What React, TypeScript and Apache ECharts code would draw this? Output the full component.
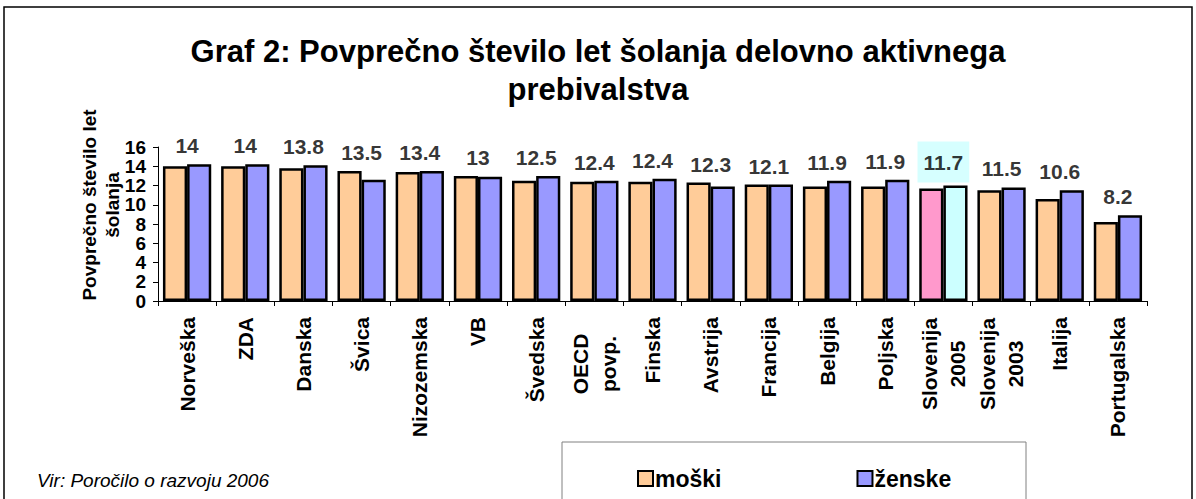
import React, { useEffect, useRef } from "react";
import * as echarts from "echarts";

const categories = [
  "Norveška", "ZDA", "Danska", "Švica", "Nizozemska", "VB", "Švedska", "OECD\npovp.",
  "Finska", "Avstrija", "Francija", "Belgija", "Poljska", "Slovenija\n2005", "Slovenija\n2003",
  "Italija", "Portugalska",
];
const moski = [14, 14, 13.8, 13.5, 13.4, 13, 12.5, 12.4, 12.4, 12.3, 12.1, 11.9, 11.9, 11.7, 11.5, 10.6, 8.2];
const zenske = [14.2, 14.2, 14.1, 12.6, 13.5, 12.9, 13.0, 12.5, 12.7, 11.9, 12.1, 12.5, 12.6, 12.0, 11.8, 11.5, 8.9];
const yTicks = { min: 0, max: 16, interval: 2 };
const highlightCategory = "Slovenija\n2005";

const FONT = "Liberation Sans, Arial, sans-serif";

export default function App() {
  const ref = useRef<HTMLDivElement>(null);
  useEffect(() => {
    document.body.style.margin = "0";
    const chart = echarts.init(ref.current!, null, { renderer: "svg" });
    const hi = categories.indexOf(highlightCategory);
    const moskiData = moski.map((v, i) =>
      i === hi ? { value: v, itemStyle: { color: "#FF99CC" } } : v
    );
    const zenskeData = zenske.map((v, i) =>
      i === hi ? { value: v, itemStyle: { color: "#CCFFFF" } } : v
    );
    const labelData = moski.map((v, i) => {
      const top = Math.max(v, zenske[i]);
      if (i === hi) {
        return {
          value: top,
          shown: v,
          label: { backgroundColor: "#CCFFFF", padding: [10, 6], distance: 3 },
        };
      }
      return { value: top, shown: v };
    });
    chart.setOption({
      animation: false,
      backgroundColor: "#ffffff",
      textStyle: { fontFamily: FONT },
      title: {
        text: "Graf 2: Povprečno število let šolanja delovno aktivnega\nprebivalstva",
        left: "center",
        top: 27,
        textStyle: { fontSize: 31, fontWeight: "bold", color: "#000", lineHeight: 38, fontFamily: FONT },
      },
      grid: { left: 158, right: 49, top: 147, bottom: 198, containLabel: false },
      legend: {
        data: ["moški", "ženske"],
        left: 632,
        top: 462,
        icon: "rect",
        itemWidth: 15,
        itemHeight: 15,
        itemGap: 135,
        textStyle: { fontSize: 23, fontWeight: "bold", color: "#000", fontFamily: FONT, padding: [0, 0, 0, -3] },
      },
      xAxis: {
        type: "category",
        data: categories,
        axisLine: { lineStyle: { color: "#000", width: 1 } },
        axisTick: { show: true, length: 5, lineStyle: { color: "#000" } },
        axisLabel: {
          interval: 0,
          rotate: 90,
          margin: 16,
          fontSize: 21,
          fontWeight: "bold",
          color: "#000",
          fontFamily: FONT,
          lineHeight: 28,
          align: "right",
          formatter: (v: string) => {
            if (v.indexOf("\n") >= 0) {
              const parts = v.split("\n");
              return parts.map((p) => "{c|" + p + "}").join("\n");
            }
            return v;
          },
          rich: {
            c: { width: 94, align: "center", fontSize: 21, fontWeight: "bold", color: "#000", fontFamily: FONT, lineHeight: 28 },
          },
        },
      },
      yAxis: {
        type: "value",
        min: yTicks.min,
        max: yTicks.max,
        interval: yTicks.interval,
        axisLine: { show: true, lineStyle: { color: "#000", width: 1 } },
        axisTick: { show: true, length: 5, lineStyle: { color: "#000" } },
        splitLine: { show: false },
        axisLabel: {
          fontSize: 19,
          fontWeight: "bold",
          color: "#000",
          fontFamily: FONT,
          margin: 12,
          lineHeight: 16,
          showMinLabel: true,
          showMaxLabel: true,
          hideOverlap: false,
        },
      },
      series: [
        {
          name: "moški",
          type: "bar",
          data: moskiData,
          barGap: "0%",
          barCategoryGap: "17%",
          itemStyle: { color: "#FFCC99", borderColor: "#000", borderWidth: 2.5 },
        },
        {
          name: "ženske",
          type: "bar",
          data: zenskeData,
          barGap: "0%",
          barCategoryGap: "17%",
          itemStyle: { color: "#9999FF", borderColor: "#000", borderWidth: 2.5 },
        },
        {
          name: "labels",
          type: "scatter",
          data: labelData,
          symbolSize: 0,
          silent: true,
          z: 5,
          label: {
            show: true,
            position: "top",
            distance: 8,
            fontSize: 21,
            fontWeight: "bold",
            color: "#000",
            fontFamily: FONT,
            formatter: (p: any) => String(p.data.shown),
          },
        },
      ],
      graphic: [
        {
          type: "rect",
          shape: { x: 4, y: 7, width: 1188, height: 520 },
          style: { fill: "none", stroke: "#000", lineWidth: 1.5 },
          silent: true,
          z: -1,
        },
        {
          type: "rect",
          shape: { x: 562, y: 442, width: 464, height: 80 },
          style: { fill: "none", stroke: "#808080", lineWidth: 1 },
          silent: true,
        },
        {
          type: "text",
          x: 37,
          y: 480,
          style: {
            text: "Vir: Poročilo o razvoju 2006",
            font: "italic 19px " + FONT,
            fill: "#000",
            textAlign: "left",
            textVerticalAlign: "middle",
          },
        },
        {
          type: "text",
          x: 101,
          y: 205,
          rotation: Math.PI / 2,
          style: {
            text: "Povprečno število let\nšolanja",
            font: "bold 19px " + FONT,
            fill: "#000",
            textAlign: "center",
            textVerticalAlign: "middle",
            lineHeight: 23,
          },
        },
      ],
    });
    return () => chart.dispose();
  }, []);
  return <div ref={ref} style={{ width: 1196, height: 499 }} />;
}
